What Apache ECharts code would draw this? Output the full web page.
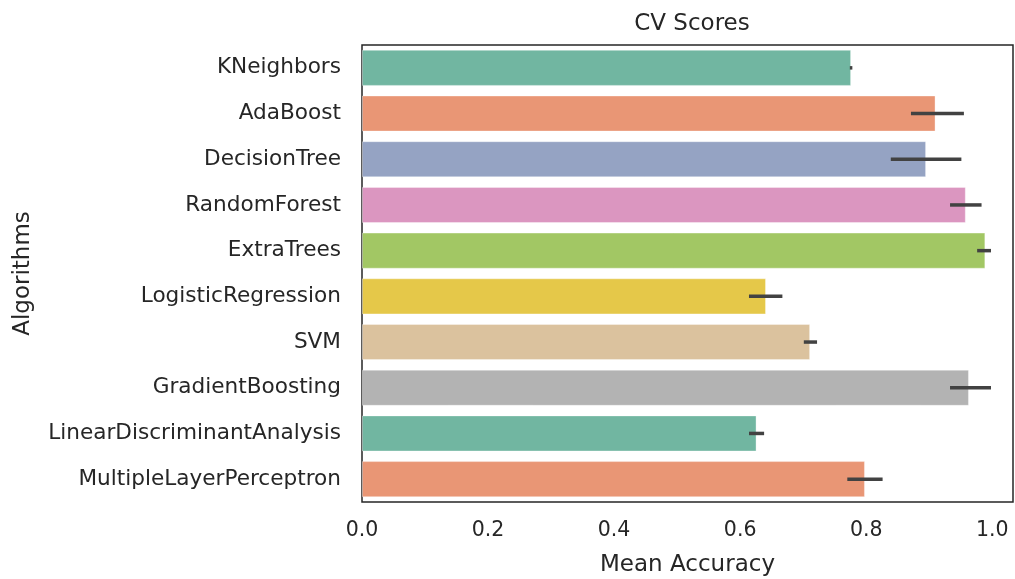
<!DOCTYPE html>
<html>
<head>
<meta charset="utf-8">
<script src="https://cdn.jsdelivr.net/npm/echarts@6/dist/echarts.min.js"></script>
<style>
  html, body { margin: 0; padding: 0; background: #ffffff; }
  #chart { width: 1015px; height: 579px; }
</style>
</head>
<body>
<div id="chart"></div>
<script>
// Cross-validation results per classifier
const algorithms = [
  'KNeighbors', 'AdaBoost', 'DecisionTree', 'RandomForest', 'ExtraTrees',
  'LogisticRegression', 'SVM', 'GradientBoosting',
  'LinearDiscriminantAnalysis', 'MultipleLayerPerceptron'
];
const meanAccuracy = [0.776, 0.910, 0.895, 0.958, 0.989, 0.641, 0.711, 0.963, 0.626, 0.798];
const errLow  = [0.774, 0.871, 0.839, 0.933, 0.976, 0.614, 0.701, 0.933, 0.614, 0.770];
const errHigh = [0.778, 0.955, 0.951, 0.983, 0.998, 0.667, 0.722, 0.998, 0.638, 0.826];
const xTicks = [0.0, 0.2, 0.4, 0.6, 0.8, 1.0];

// Muted Set2 palette
const palette = ['#71b6a1', '#e99675', '#95a3c3', '#db96c0', '#a2c764',
                 '#e5c849', '#dbc29e', '#b3b3b3'];

const textColor = '#262626';
const font = 'DejaVu Sans';

const chart = echarts.init(document.getElementById('chart'), null, { renderer: 'canvas' });

const barData = meanAccuracy.map((v, i) => ({
  value: v,
  itemStyle: { color: palette[i % palette.length] }
}));
const errData = algorithms.map((a, i) => [i, errLow[i], errHigh[i]]);

chart.setOption({
  animation: false,
  backgroundColor: '#ffffff',
  textStyle: { fontFamily: font, color: textColor },
  title: {
    text: 'CV Scores',
    left: 687, top: 8, textAlign: 'center',
    textStyle: { fontFamily: font, fontSize: 23, fontWeight: 'normal', color: textColor }
  },
  grid: {
    left: 362, right: 2, top: 45, bottom: 77,
    outerBoundsMode: 'none', containLabel: false,
    show: true, borderColor: '#262626', borderWidth: 1.5, backgroundColor: 'transparent'
  },
  xAxis: {
    type: 'value', min: 0, max: 1.0329, interval: 0.2,
    name: 'Mean Accuracy', nameLocation: 'middle', nameGap: 52,
    nameTextStyle: { fontFamily: font, fontSize: 23, color: textColor },
    axisLine: { show: false }, axisTick: { show: false }, splitLine: { show: false },
    axisLabel: {
      fontFamily: font, fontSize: 20.5, color: textColor, margin: 18,
      formatter: v => {
        const hit = xTicks.find(t => Math.abs(t - v) < 1e-9);
        return hit === undefined ? '' : hit.toFixed(1);
      },
      showMaxLabel: false
    }
  },
  yAxis: {
    type: 'category', data: algorithms, inverse: true,
    name: 'Algorithms', nameLocation: 'middle', nameGap: 327, nameRotate: 90,
    nameTextStyle: { fontFamily: font, fontSize: 23, color: textColor },
    axisLine: { show: false }, axisTick: { show: false }, splitLine: { show: false },
    axisLabel: { fontFamily: font, fontSize: 21.6, color: textColor, margin: 21 }
  },
  series: [
    {
      type: 'bar', data: barData, barWidth: '79%',
      itemStyle: { borderColor: 'rgba(255,255,255,0.35)', borderWidth: 1 }
    },
    {
      type: 'custom',
      data: errData,
      encode: { y: 0, x: [1, 2] },
      z: 5,
      renderItem: (params, api) => {
        const y = api.value(0);
        const p1 = api.coord([api.value(1), y]);
        const p2 = api.coord([api.value(2), y]);
        return {
          type: 'line',
          shape: { x1: p1[0], y1: p1[1], x2: p2[0], y2: p2[1] },
          style: { stroke: '#424242', lineWidth: 3.5 }
        };
      }
    }
  ]
});
</script>
</body>
</html>
